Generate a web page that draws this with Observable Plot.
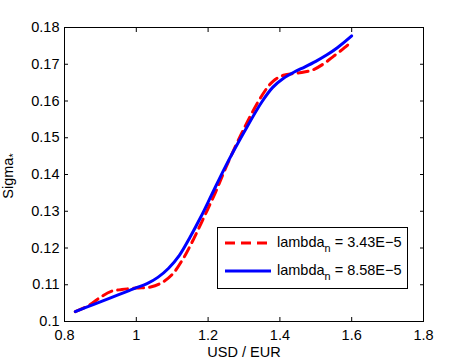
<!DOCTYPE html>
<html>
<head>
<meta charset="utf-8">
<script src="https://cdn.jsdelivr.net/npm/d3@7"></script>
<script src="https://cdn.jsdelivr.net/npm/@observablehq/plot@0.6"></script>
<style>
  html, body { margin: 0; padding: 0; background: #fff; }
  #chart { width: 467px; height: 362px; }
</style>
</head>
<body>
<div id="chart"></div>
<script>
// ---- data ----
const xTicks = [0.8, 1.0, 1.2, 1.4, 1.6, 1.8];
const xTickLabels = ["0.8", "1", "1.2", "1.4", "1.6", "1.8"];
const yTicks = [0.10, 0.11, 0.12, 0.13, 0.14, 0.15, 0.16, 0.17, 0.18];
const yTickLabels = ["0.1", "0.11", "0.12", "0.13", "0.14", "0.15", "0.16", "0.17", "0.18"];

const seriesNames = ["3.43E\u22125", "8.58E\u22125"];

const redX = [0.83, 0.87, 0.90, 0.93, 0.96, 1.00, 1.04, 1.07, 1.10, 1.13, 1.16, 1.19, 1.22, 1.25, 1.30, 1.35, 1.38, 1.41, 1.45, 1.49, 1.52, 1.55, 1.58, 1.60];
const redY = [0.1027, 0.1045, 0.1066, 0.1082, 0.1087, 0.1091, 0.1094, 0.1105, 0.1128, 0.1170, 0.1225, 0.1287, 0.1350, 0.1420, 0.1525, 0.1615, 0.1653, 0.1670, 0.1676, 0.1684, 0.1700, 0.1722, 0.1745, 0.1762];

const blueX = [0.83, 0.88, 0.93, 0.98, 1.00, 1.03, 1.06, 1.09, 1.12, 1.15, 1.18, 1.21, 1.25, 1.30, 1.35, 1.38, 1.41, 1.44, 1.47, 1.50, 1.53, 1.56, 1.60];
const blueY = [0.1027, 0.1046, 0.1065, 0.1084, 0.1092, 0.1103, 0.1120, 0.1145, 0.1180, 0.1230, 0.1285, 0.1345, 0.1425, 0.1515, 0.1598, 0.1637, 0.1662, 0.1679, 0.1693, 0.1708, 0.1725, 0.1745, 0.1777];

const red = redX.map((x, i) => ({x, y: redY[i]}));
const blue = blueX.map((x, i) => ({x, y: blueY[i]}));

const FONT = "'Liberation Sans', Arial, Helvetica, sans-serif";
const FS = 14.5;

const xLab = d => xTickLabels[xTicks.indexOf(d)];
const yLab = d => yTickLabels[yTicks.indexOf(d)];

const plot = Plot.plot({
  width: 467,
  height: 362,
  marginLeft: 64,
  marginRight: 44,
  marginTop: 27,
  marginBottom: 41,
  style: { fontFamily: FONT, fontSize: FS + "px", color: "black", background: "white" },
  x: { domain: [0.8, 1.8] },
  y: { domain: [0.1, 0.18] },
  marks: [
    Plot.line(red, { x: "x", y: "y", stroke: "#ff0000", strokeWidth: 3, strokeDasharray: "10,6", curve: "catmull-rom" }),
    Plot.line(blue, { x: "x", y: "y", stroke: "#0000ff", strokeWidth: 3, curve: "catmull-rom" }),
    Plot.frame({ stroke: "black", strokeWidth: 1 }),
    // labels
    Plot.axisX(xTicks, { anchor: "bottom", tickSize: 0, tickPadding: 8, tickFormat: xLab, label: null }),
    Plot.axisY(yTicks, { anchor: "left", tickSize: 0, tickPadding: 5, tickFormat: yLab, label: null }),
    // inward tick marks on all sides
    Plot.axisX(xTicks, { anchor: "bottom", tickSize: -4, tickFormat: () => "", label: null }),
    Plot.axisX(xTicks, { anchor: "top", tickSize: -4, tickFormat: () => "", label: null }),
    Plot.axisY(yTicks, { anchor: "left", tickSize: -4, tickFormat: () => "", label: null }),
    Plot.axisY(yTicks, { anchor: "right", tickSize: -4, tickFormat: () => "", label: null })
  ]
});

document.getElementById("chart").appendChild(plot);

const svg = d3.select(plot);

// x axis label
svg.append("text")
  .attr("x", 244).attr("y", 357)
  .attr("text-anchor", "middle")
  .attr("font-family", FONT).attr("font-size", FS)
  .attr("fill", "black")
  .text("USD / EUR");

// y axis label with subscript *
const yl = svg.append("text")
  .attr("transform", "translate(13,176) rotate(-90)")
  .attr("text-anchor", "middle")
  .attr("font-family", FONT).attr("font-size", FS)
  .attr("fill", "black");
yl.append("tspan").text("Sigma");
yl.append("tspan").attr("font-size", FS * 0.75).attr("dy", 4).text("*");

// legend
const lg = svg.append("g").attr("text-anchor", "start");
lg.append("rect")
  .attr("x", 217.5).attr("y", 227.5).attr("width", 190).attr("height", 61)
  .attr("fill", "white").attr("stroke", "black").attr("stroke-width", 1);
const rows = [
  { name: seriesNames[0], color: "#ff0000", dash: "10,6", y: 243 },
  { name: seriesNames[1], color: "#0000ff", dash: null, y: 271 }
];
rows.forEach(r => {
  lg.append("line")
    .attr("x1", 225).attr("x2", 271).attr("y1", r.y).attr("y2", r.y)
    .attr("stroke", r.color).attr("stroke-width", 3)
    .attr("stroke-dasharray", r.dash);
  const t = lg.append("text")
    .attr("x", 277).attr("y", r.y + 4)
    .attr("text-anchor", "start")
    .attr("font-family", FONT).attr("font-size", FS).attr("fill", "black");
  t.append("tspan").text("lambda");
  t.append("tspan").attr("font-size", FS * 0.75).attr("dy", 5).text("n");
  t.append("tspan").attr("dy", -5).text(" = " + r.name);
});
</script>
</body>
</html>
